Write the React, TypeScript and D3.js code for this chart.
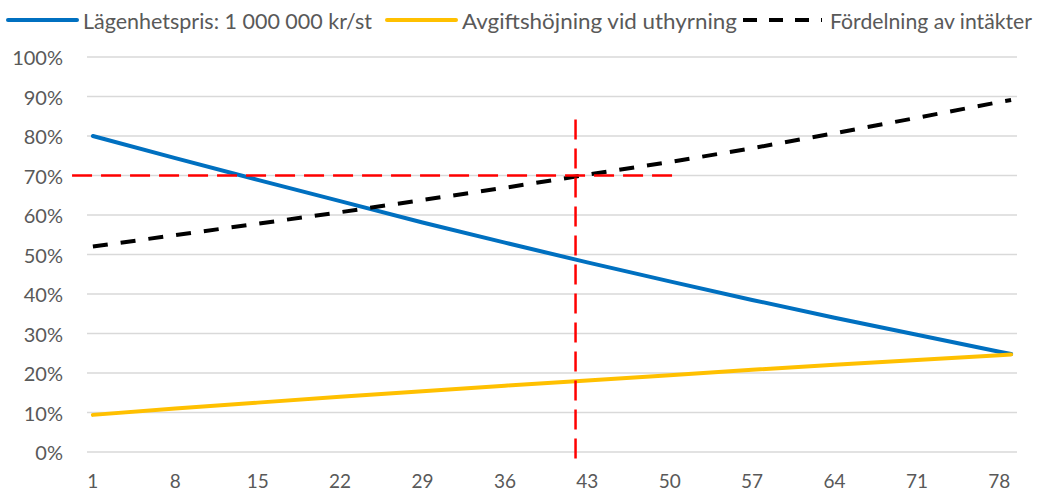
import React from "react";
import * as d3 from "d3";

// Category axis: 79 slots, labelled every 7th
const categoryCount = 79;
const tickCategories = [1, 8, 15, 22, 29, 36, 43, 50, 57, 64, 71, 78];

// Series values (percent) sampled at these categories
const sampleCategories = [1, 8, 15, 22, 29, 36, 43, 50, 57, 64, 71, 78, 79];
const apartmentPrice = [80.0, 74.4, 68.9, 63.5, 58.1, 53.0, 48.0, 43.2, 38.5, 34.0, 29.7, 25.4, 24.8];
const feeIncrease = [9.4, 11.0, 12.5, 14.0, 15.4, 16.8, 18.1, 19.4, 20.8, 22.1, 23.3, 24.5, 24.7];
const incomeSplit = [52.0, 54.9, 57.8, 60.7, 63.8, 66.9, 70.2, 73.4, 76.9, 80.7, 84.6, 88.6, 89.1];

const yTicks = [0, 10, 20, 30, 40, 50, 60, 70, 80, 90, 100];

const seriesNames = [
  "Lägenhetspris: 1 000 000 kr/st",
  "Avgiftshöjning vid uthyrning",
  "Fördelning av intäkter",
];

// Reference cross-hair
const markerCategory = 42;
const markerLevel = 70;
const markerVerticalSpan = [-3.3, 84.2];
const markerHorizontalSpan = [-0.77, 50.8];

const W = 1050;
const H = 492;
const plot = { left: 87, right: 1017, top: 57, bottom: 452 };
const FONT = "Lato, 'Open Sans', sans-serif";
const TEXT = "#595959";

export default function App() {
  const x = d3
    .scaleLinear()
    .domain([0.5, categoryCount + 0.5])
    .range([plot.left, plot.right]);
  const y = d3.scaleLinear().domain([0, 100]).range([plot.bottom, plot.top]);

  const line = d3
    .line<[number, number]>()
    .x((d) => x(d[0]))
    .y((d) => y(d[1]));

  const pts = (vals: number[]) =>
    sampleCategories.map((c, i) => [c, vals[i]] as [number, number]);

  const series = [
    { name: seriesNames[0], vals: apartmentPrice, color: "#0070C0", dash: undefined as string | undefined, width: 4 },
    { name: seriesNames[1], vals: feeIncrease, color: "#FFC000", dash: undefined, width: 4 },
    { name: seriesNames[2], vals: incomeSplit, color: "#000000", dash: "15 13", width: 4 },
  ];

  const legend = [
    { x0: 8, x1: 77, tx: 83, tw: 289 },
    { x0: 387, x1: 456, tx: 462, tw: 275 },
    { x0: 743, x1: 822, tx: 830, tw: 202 },
  ];

  return (
    <svg
      width={W}
      height={H}
      style={{ position: "absolute", left: 0, top: 0, background: "#fff" }}
      fontFamily={FONT}
    >
      {/* gridlines */}
      {yTicks.map((t) => (
        <line
          key={t}
          x1={plot.left}
          x2={plot.right}
          y1={y(t)}
          y2={y(t)}
          stroke="#D9D9D9"
          strokeWidth={1.5}
        />
      ))}
      {/* y labels */}
      {yTicks.map((t) => (
        <text
          key={"yl" + t}
          x={63}
          y={y(t)}
          textAnchor="end"
          dominantBaseline="central"
          fontSize={20}
          fill={TEXT}
        >
          {t}%
        </text>
      ))}
      {/* x labels */}
      {tickCategories.map((c) => (
        <text
          key={"xl" + c}
          x={x(c)}
          y={488}
          textAnchor="middle"
          fontSize={19}
          fill={TEXT}
        >
          {c}
        </text>
      ))}

      {/* series */}
      {series.map((s) => (
        <path
          key={s.name}
          d={line(pts(s.vals)) || ""}
          fill="none"
          stroke={s.color}
          strokeWidth={s.width}
          strokeDasharray={s.dash}
          strokeLinejoin="round"
          strokeLinecap={s.dash ? "butt" : "round"}
        />
      ))}

      {/* cross-hair */}
      <line
        x1={x(markerHorizontalSpan[0])}
        x2={x(markerHorizontalSpan[1])}
        y1={y(markerLevel)}
        y2={y(markerLevel)}
        stroke="#FF0000"
        strokeWidth={2.5}
        strokeDasharray="20 9"
      />
      <line
        x1={x(markerCategory)}
        x2={x(markerCategory)}
        y1={y(markerVerticalSpan[1])}
        y2={y(markerVerticalSpan[0])}
        stroke="#FF0000"
        strokeWidth={2.5}
        strokeDasharray="20 9"
      />

      {/* legend */}
      {series.map((s, i) => (
        <g key={"lg" + i}>
          <line
            x1={legend[i].x0}
            x2={legend[i].x1}
            y1={20}
            y2={20}
            stroke={s.color}
            strokeWidth={4}
            strokeDasharray={s.dash ? "14 12" : undefined}
            strokeLinecap={s.dash ? "butt" : "round"}
          />
          <text
            x={legend[i].tx}
            y={20}
            dominantBaseline="central"
            fontSize={21}
            fill={TEXT}
            textLength={legend[i].tw}
            lengthAdjust="spacingAndGlyphs"
          >
            {s.name}
          </text>
        </g>
      ))}
    </svg>
  );
}
